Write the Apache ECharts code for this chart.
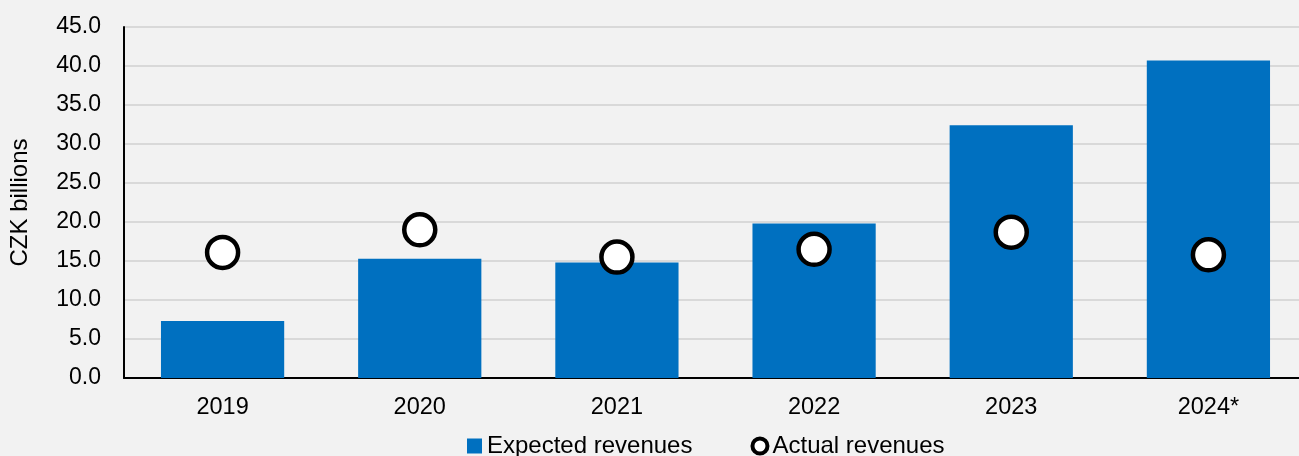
<!DOCTYPE html>
<html><head><meta charset="utf-8">
<script src="https://cdn.jsdelivr.net/npm/echarts@6/dist/echarts.min.js"></script>
<style>html,body{margin:0;padding:0;background:#f2f2f2}#c{width:1299px;height:456px}</style>
</head><body><div id="c"></div>
<script>
const categories = ['2019','2020','2021','2022','2023','2024*'];
const expected = [7.3, 15.3, 14.8, 19.8, 32.4, 40.7];
const actual = [16.1, 19.0, 15.5, 16.5, 18.7, 15.8];
const yTicks = {min: 0, max: 45, interval: 5};
const font = '"Liberation Sans", Arial, sans-serif';
const chart = echarts.init(document.getElementById('c'), null, {renderer: 'canvas'});
chart.setOption({
  backgroundColor: '#f2f2f2',
  animation: false,
  grid: {left: 124, right: -8, top: 27, bottom: 78, containLabel: false, outerBoundsMode: 'none'},
  legend: {
    top: 429, left: 462, itemGap: 58, itemWidth: 15, itemHeight: 15,
    textStyle: {fontFamily: font, fontSize: 24, color: '#000'},
    data: [
      {name: 'Expected revenues', icon: 'rect', itemStyle: {color: '#0070c0'}},
      {name: 'Actual revenues', icon: 'circle', itemStyle: {color: '#fff', borderColor: '#000', borderWidth: 4}}
    ]
  },
  xAxis: {
    type: 'category', data: categories,
    axisLine: {lineStyle: {color: '#000', width: 2}},
    axisTick: {show: false},
    axisLabel: {fontFamily: font, fontSize: 23.5, color: '#000', margin: 18}
  },
  yAxis: {
    type: 'value', min: yTicks.min, max: yTicks.max, interval: yTicks.interval,
    name: 'CZK billions', nameLocation: 'middle', nameGap: 92,
    nameTextStyle: {fontFamily: font, fontSize: 24, color: '#000'},
    axisLine: {show: true, lineStyle: {color: '#000', width: 2}},
    axisTick: {show: false},
    axisLabel: {fontFamily: font, fontSize: 23, color: '#000', margin: 23, formatter: v => v.toFixed(1)},
    splitLine: {lineStyle: {color: '#d9d9d9', width: 2}}
  },
  series: [
    {name: 'Expected revenues', type: 'bar', data: expected, barWidth: '62.5%', itemStyle: {color: '#0070c0'}},
    {name: 'Actual revenues', type: 'scatter', data: actual, symbol: 'circle', symbolSize: 31,
     itemStyle: {color: '#fff', borderColor: '#000', borderWidth: 4.5, opacity: 1}, z: 5}
  ]
});
</script></body></html>
